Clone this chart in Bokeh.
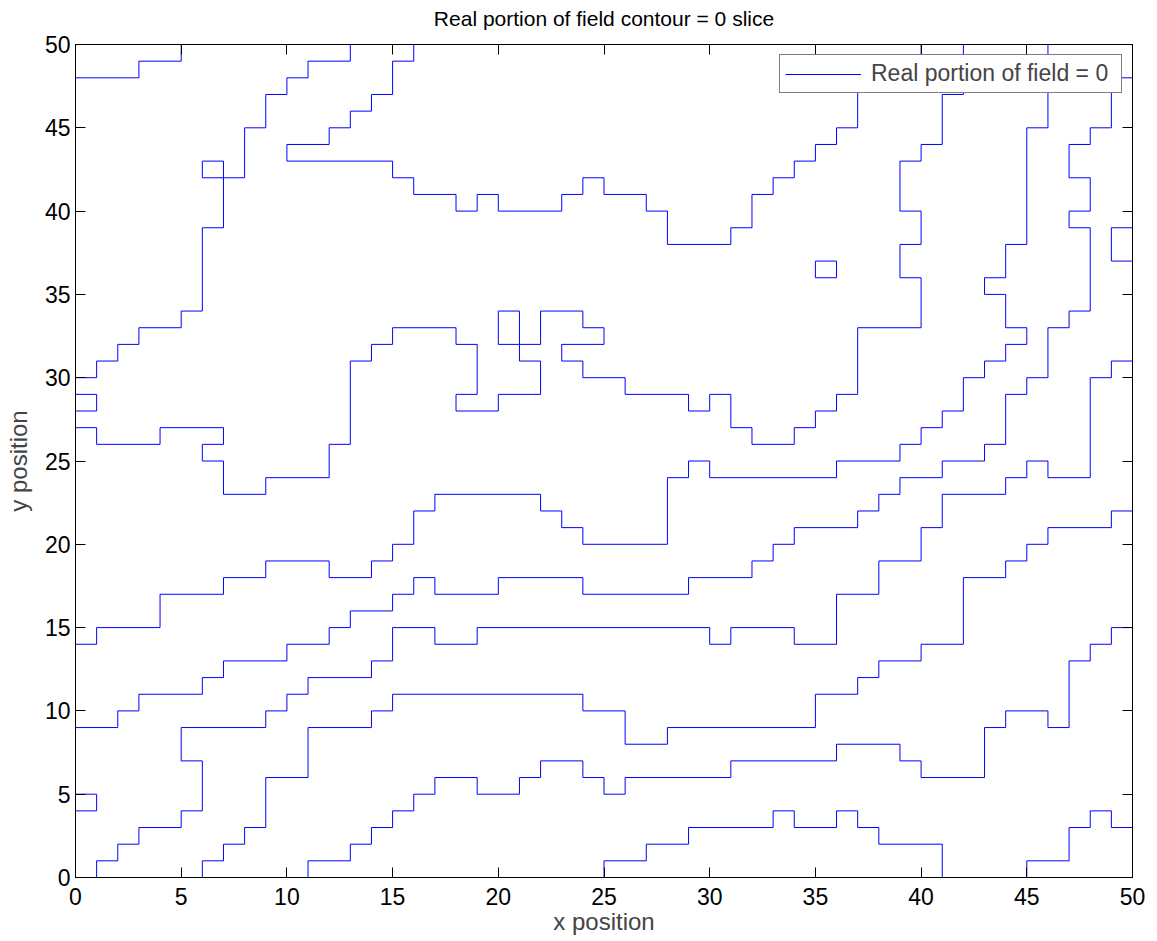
from bokeh.plotting import figure
from bokeh.models import LinearAxis, Range1d, FixedTicker, ColumnDataSource, Legend, LegendItem
from bokeh.embed import file_html
from bokeh.resources import INLINE

# ---- contour paths of "Real portion of field = 0" (grid-step contours) ----
a_x = [0, 3, 3, 5, 5]
a_y = [48, 48, 49, 49, 50]

b_x = [0, 1, 1, 2, 2, 3, 3, 5, 5, 6, 6, 7, 7, 6, 6, 8, 8, 9, 9, 10, 10, 11, 11, 13, 13]
b_y = [30, 30, 31, 31, 32, 32, 33, 33, 34, 34, 39, 39, 43, 43, 42, 42, 45, 45, 47, 47, 48, 48, 49, 49, 50]

c_x = [0, 1, 1, 0]
c_y = [29, 29, 28, 28]

d_x = [0, 1, 1, 4, 4, 7, 7, 6, 6, 7, 7, 9, 9, 12, 12, 13, 13, 14, 14, 15, 15, 18, 18, 19, 19, 18, 18,
       20, 20, 22, 22, 21, 21, 20, 20, 22, 22, 24, 24, 25, 25, 23, 23, 24, 24, 26, 26, 29, 29, 30, 30,
       31, 31, 32, 32, 34, 34, 35, 35, 36, 36, 37, 37, 40, 40, 39, 39, 40, 40, 39, 39, 40, 40, 41, 41,
       42, 42]
d_y = [27, 27, 26, 26, 27, 27, 26, 26, 25, 25, 23, 23, 24, 24, 26, 26, 31, 31, 32, 32, 33, 33, 32, 32,
       29, 29, 28, 28, 29, 29, 31, 31, 34, 34, 32, 32, 34, 34, 33, 33, 32, 32, 31, 31, 30, 30, 29, 29,
       28, 28, 29, 29, 27, 27, 26, 26, 27, 27, 28, 28, 29, 29, 33, 33, 36, 36, 38, 38, 40, 40, 43, 43,
       44, 44, 47, 47, 50]

e_x = [16, 16, 15, 15, 14, 14, 13, 13, 12, 12, 10, 10, 15, 15, 16, 16, 18, 18, 19, 19, 20, 20, 23, 23,
       24, 24, 25, 25, 27, 27, 28, 28, 31, 31, 32, 32, 33, 33, 34, 34, 35, 35, 36, 36, 37, 37, 40, 40]
e_y = [50, 49, 49, 47, 47, 46, 46, 45, 45, 44, 44, 43, 43, 42, 42, 41, 41, 40, 40, 41, 41, 40, 40, 41,
       41, 42, 42, 41, 41, 40, 40, 38, 38, 39, 39, 41, 41, 42, 42, 43, 43, 44, 44, 45, 45, 48, 48, 50]

f_x = [35, 36, 36, 35, 35]
f_y = [36, 36, 37, 37, 36]

g_x = [46, 46, 45, 45, 44, 44, 43, 43, 44, 44, 45, 45, 44, 44, 43, 43, 42, 42, 41, 41, 40, 40, 39, 39,
       36, 36, 30, 30, 29, 29, 28, 28, 24, 24, 23, 23, 22, 22, 17, 17, 16, 16, 15, 15, 14, 14, 12, 12,
       9, 9, 7, 7, 4, 4, 1, 1, 0]
g_y = [50, 45, 45, 38, 38, 36, 36, 35, 35, 33, 33, 32, 32, 31, 31, 30, 30, 28, 28, 27, 27, 26, 26, 25,
       25, 24, 24, 25, 25, 24, 24, 20, 20, 21, 21, 22, 22, 23, 23, 22, 22, 20, 20, 19, 19, 18, 18, 19,
       19, 18, 18, 17, 17, 15, 15, 14, 14]

h_x = [50, 49, 49, 48, 48, 47, 47, 48, 48, 47, 47, 48, 48, 47, 47, 46, 46, 45, 45, 44, 44, 43, 43, 41,
       41, 39, 39, 38, 38, 37, 37, 34, 34, 33, 33, 32, 32, 29, 29, 24, 24, 20, 20, 17, 17, 16, 16, 15,
       15, 13, 13, 12, 12, 10, 10, 7, 7, 6, 6, 3, 3, 2, 2, 0]
h_y = [48, 48, 45, 45, 44, 44, 42, 42, 40, 40, 39, 39, 34, 34, 33, 33, 30, 30, 29, 29, 26, 26, 25, 25,
       24, 24, 23, 23, 22, 22, 21, 21, 20, 20, 19, 19, 18, 18, 17, 17, 18, 18, 17, 17, 18, 18, 17, 17,
       16, 16, 15, 15, 14, 14, 13, 13, 12, 12, 11, 11, 10, 10, 9, 9]

i_x = [50, 49, 49, 48, 48, 46, 46, 45, 45, 44, 44, 41, 41, 40, 40, 38, 38, 36, 36, 34, 34, 31, 31, 30,
       30, 19, 19, 17, 17, 15, 15, 14, 14, 11, 11, 10, 10, 9, 9, 5, 5, 6, 6, 5, 5, 3, 3, 2, 2, 1, 1]
i_y = [31, 31, 30, 30, 24, 24, 25, 25, 24, 24, 23, 23, 21, 21, 19, 19, 17, 17, 14, 14, 15, 15, 14, 14,
       15, 15, 14, 14, 15, 15, 13, 13, 12, 12, 11, 11, 10, 10, 9, 9, 7, 7, 4, 4, 3, 3, 2, 2, 1, 1, 0]

j_x = [50, 49, 49, 46, 46, 45, 45, 44, 44, 42, 42, 40, 40, 38, 38, 37, 37, 35, 35, 28, 28, 26, 26, 24,
       24, 15, 15, 14, 14, 11, 11, 9, 9, 8, 8, 7, 7, 6, 6]
j_y = [22, 22, 21, 21, 20, 20, 19, 19, 18, 18, 14, 14, 13, 13, 12, 12, 11, 11, 9, 9, 8, 8, 10, 10,
       11, 11, 10, 10, 9, 9, 6, 6, 3, 3, 2, 2, 1, 1, 0]

k_x = [50, 49, 49, 48, 48, 47, 47, 46, 46, 44, 44, 43, 43, 40, 40, 39, 39, 36, 36, 31, 31, 26, 26, 25,
       25, 24, 24, 22, 22, 21, 21, 19, 19, 17, 17, 16, 16, 15, 15, 14, 14, 13, 13, 11, 11]
k_y = [15, 15, 14, 14, 13, 13, 9, 9, 10, 10, 9, 9, 6, 6, 7, 7, 8, 8, 7, 7, 6, 6, 5, 5,
       6, 6, 7, 7, 6, 6, 5, 5, 6, 6, 5, 5, 4, 4, 3, 3, 2, 2, 1, 1, 0]

l_x = [50, 49, 49, 48, 48, 47, 47, 45, 45]
l_y = [3, 3, 4, 4, 3, 3, 1, 1, 0]

m_x = [25, 25, 27, 27, 29, 29, 33, 33, 34, 34, 36, 36, 37, 37, 38, 38, 41, 41]
m_y = [0, 1, 1, 2, 2, 3, 3, 4, 4, 3, 3, 4, 4, 3, 3, 2, 2, 0]

n_x = [0, 1, 1, 0]
n_y = [5, 5, 4, 4]

o_x = [50, 49, 49, 50]
o_y = [39, 39, 37, 37]

tick_values = [0, 5, 10, 15, 20, 25, 30, 35, 40, 45, 50]

all_x = [a_x, b_x, c_x, d_x, e_x, f_x, g_x, h_x, i_x, j_x, k_x, l_x, m_x, n_x, o_x]
all_y = [a_y, b_y, c_y, d_y, e_y, f_y, g_y, h_y, i_y, j_y, k_y, l_y, m_y, n_y, o_y]

TITLE = "Real portion of field contour = 0 slice"
FONT = "Liberation Sans"
BLUE = "#0000ff"

p = figure(width=1157, height=941, x_range=Range1d(0, 50), y_range=Range1d(0, 50),
           output_backend="svg", toolbar_location=None,
           min_border_left=75, min_border_right=25, min_border_top=44, min_border_bottom=64)
p.xgrid.visible = False
p.ygrid.visible = False
p.outline_line_color = "black"
p.outline_line_alpha = 1.0

src = ColumnDataSource(dict(xs=all_x, ys=all_y))
contours = p.multi_line(xs="xs", ys="ys", source=src, line_color=BLUE, line_width=1)

ticker = FixedTicker(ticks=tick_values)
for ax in [p.xaxis[0], p.yaxis[0]]:
    ax.ticker = ticker
    ax.major_tick_in = 10
    ax.major_tick_out = 0
    ax.minor_tick_line_color = None
    ax.major_label_text_font = FONT
    ax.major_label_text_font_size = "23px"
    ax.major_label_text_color = "black"
    ax.axis_label_text_font = FONT
    ax.axis_label_text_font_size = "24px"
    ax.axis_label_text_font_style = "normal"
    ax.axis_line_color = "black"
    ax.major_tick_line_color = "black"
p.xaxis.axis_label = "x position"
p.yaxis.axis_label = "y position"
p.xaxis.major_label_standoff = 10
p.yaxis.major_label_standoff = 5
p.xaxis.axis_label_standoff = 0
p.yaxis.axis_label_standoff = 10

# top axis: inward ticks only, carries the chart title as its label
top = LinearAxis(ticker=FixedTicker(ticks=tick_values), major_tick_in=10, major_tick_out=0,
                 minor_tick_line_color=None,
                 major_label_overrides={t: "" for t in tick_values},
                 major_label_standoff=0, axis_line_color="black", major_tick_line_color="black",
                 axis_label=TITLE, axis_label_text_font=FONT, axis_label_text_font_size="21px",
                 axis_label_text_font_style="normal", axis_label_text_color="black",
                 axis_label_standoff=15)
p.add_layout(top, "above")

right = LinearAxis(ticker=FixedTicker(ticks=tick_values), major_tick_in=10, major_tick_out=0,
                   minor_tick_line_color=None,
                   major_label_overrides={t: "" for t in tick_values},
                   major_label_standoff=0, axis_line_color="black", major_tick_line_color="black")
p.add_layout(right, "right")

lg = Legend(items=[LegendItem(label="Real portion of field = 0", renderers=[contours])],
            location="top_right")
lg.border_line_color = "black"
lg.border_line_width = 1
lg.background_fill_alpha = 1.0
lg.label_text_font = FONT
lg.label_text_font_size = "23px"
lg.glyph_width = 76
lg.label_standoff = 10
lg.label_width = 245
lg.padding = 5
lg.margin = 10
lg.spacing = 0
p.add_layout(lg, "center")

open("out.html", "w").write(file_html(p, INLINE))
